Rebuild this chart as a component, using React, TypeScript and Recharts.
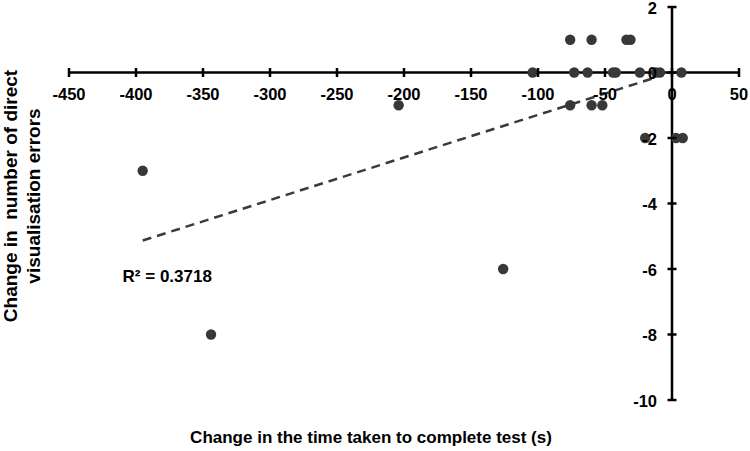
import {
  ReferenceDot,
  ReferenceLine,
  Scatter,
  ScatterChart,
  XAxis,
  YAxis,
} from "recharts";

// change in time (s) vs change in number of direct visualisation errors
const timeChange = [
  -76, -60, -34, -31, -104, -73, -63, -44, -42, -24, -12, -9, 7, -204, -76,
  -60, -52, -20, 3, 8, -395, -344, -126,
];
const errorChange = [
  1, 1, 1, 1, 0, 0, 0, 0, 0, 0, 0, 0, 0, -1, -1, -1, -1, -2, -2, -2, -3, -8,
  -6,
];

const xTicks = [-450, -400, -350, -300, -250, -200, -150, -100, -50, 0, 50];
const yTicks = [-10, -8, -6, -4, -2, 0, 2];

// linear trendline end points, as drawn
const trendX = [-395, -12];
const trendY = [-5.13, -0.15];
const rSquared = "R² = 0.3718";
const rLabelAt = { x: -410, y: -6.2 };

const xTitle = "Change in the time taken to complete test (s)";
const yTitle = ["Change in  number of direct", "visualisation errors"];

const points = timeChange.map((t, i) => ({ x: t, y: errorChange[i] }));

const FONT = "'Liberation Sans', Arial, sans-serif";
const INK = "#000";
const DOT = "#383838";

const textStyle = {
  fontFamily: FONT,
  fontSize: 17,
  fontWeight: 700,
  fill: INK,
  whiteSpace: "pre" as const,
};
const tickStyle = { ...textStyle, fontSize: 16.5 };
const yTitleStyle = { ...textStyle, fontSize: 19 };

function XTick(value: number) {
  return (props: any) => (
    <g>
      <line
        x1={props.cx}
        x2={props.cx}
        y1={props.cy - 4.5}
        y2={props.cy + 4.5}
        stroke={INK}
        strokeWidth={2.5}
      />
      <text x={props.cx} y={props.cy + 27} textAnchor="middle" style={tickStyle}>
        {value}
      </text>
    </g>
  );
}

function YTick(value: number) {
  return (props: any) => (
    <g>
      <line
        x1={props.cx - 4.5}
        x2={props.cx + 4.5}
        y1={props.cy}
        y2={props.cy}
        stroke={INK}
        strokeWidth={2.5}
      />
      <text x={props.cx - 15} y={props.cy + 6.5} textAnchor="end" style={tickStyle}>
        {value}
      </text>
    </g>
  );
}

export default function App() {
  return (
    <div style={{ position: "absolute", left: 0, top: 0, background: "#fff" }}>
      <ScatterChart
        width={750}
        height={451}
        margin={{ top: 7, right: 11, bottom: 0, left: 0 }}
      >
        <XAxis
          type="number"
          dataKey="x"
          domain={[-450, 50]}
          ticks={xTicks}
          height={51}
          tick={false}
          axisLine={false}
          tickLine={false}
          label={{
            content: () => (
              <text x={371} y={443} textAnchor="middle" style={textStyle}>
                {xTitle}
              </text>
            ),
          }}
        />
        <YAxis
          type="number"
          dataKey="y"
          domain={[-10, 2]}
          ticks={yTicks}
          width={69}
          tick={false}
          axisLine={false}
          tickLine={false}
          label={{
            content: () => (
              <g>
                <text
                  x={17}
                  y={196}
                  transform="rotate(-90, 17, 196)"
                  textAnchor="middle"
                  style={yTitleStyle}
                >
                  {yTitle[0]}
                </text>
                <text
                  x={40}
                  y={196}
                  transform="rotate(-90, 40, 196)"
                  textAnchor="middle"
                  style={yTitleStyle}
                >
                  {yTitle[1]}
                </text>
              </g>
            ),
          }}
        />
        <ReferenceLine
          segment={[
            { x: trendX[0], y: trendY[0] },
            { x: trendX[1], y: trendY[1] },
          ]}
          stroke="#3a3a3a"
          strokeWidth={2.5}
          strokeDasharray="9 6"
        />
        <ReferenceLine y={0} stroke={INK} strokeWidth={2.5} />
        <ReferenceLine x={0} stroke={INK} strokeWidth={2.5} />
        <Scatter
          data={points}
          isAnimationActive={false}
          shape={(p: any) => <circle cx={p.cx} cy={p.cy} r={5.2} fill={DOT} />}
        />
        {xTicks.map((t) => (
          <ReferenceDot key={`x${t}`} x={t} y={0} shape={XTick(t)} />
        ))}
        {yTicks.map((t) => (
          <ReferenceDot key={`y${t}`} x={0} y={t} shape={YTick(t)} />
        ))}
        <ReferenceDot
          x={rLabelAt.x}
          y={rLabelAt.y}
          shape={(p: any) => (
            <text x={p.cx} y={p.cy + 6} style={textStyle}>
              {rSquared}
            </text>
          )}
        />
      </ScatterChart>
    </div>
  );
}
